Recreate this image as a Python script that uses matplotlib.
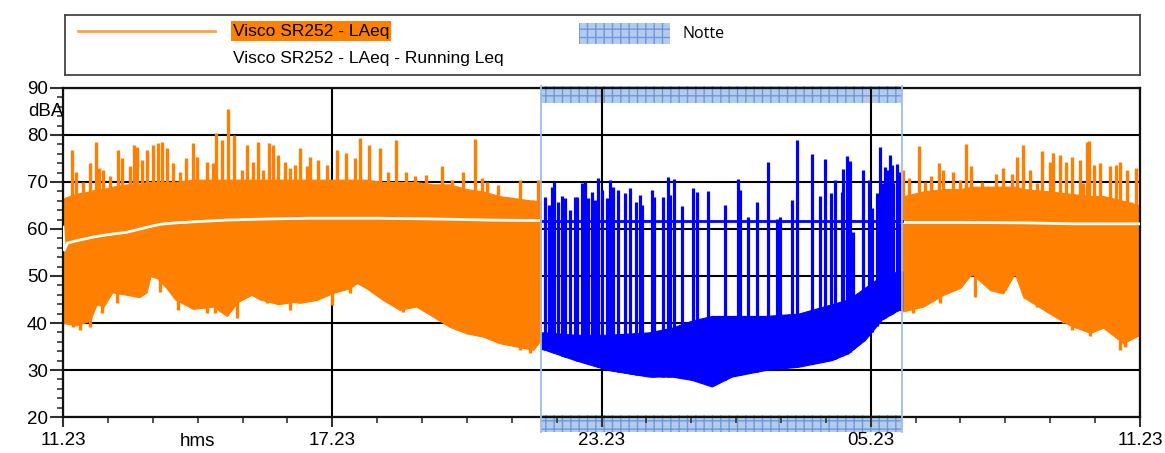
import numpy as np
import matplotlib
matplotlib.use("Agg")
import matplotlib.pyplot as plt
import matplotlib.transforms as mtransforms
from matplotlib.patches import Rectangle
from matplotlib.lines import Line2D

plt.rcParams['font.family'] = ['Liberation Sans', 'DejaVu Sans']
plt.rcParams['hatch.linewidth'] = 1.0

# x values are hours since 11.23
tick_hours = [0, 6, 12, 18, 24]
tick_labels = ["11.23", "17.23", "23.23", "05.23", "11.23"]
night = [10.65, 18.70]  # Notte 22:00 - 06:00

# LAeq, day before the night: dense band (low / high edge)
day1_t = [0, 0.3, 0.6, 0.75, 0.9, 1.1, 1.42, 1.7, 1.86, 1.95, 2.1, 2.3, 2.5, 2.9, 3.35,
          3.65, 3.9, 4.2, 4.39, 4.8, 5.13, 5.28, 5.65, 6.02, 6.39, 6.55, 6.76, 7.13, 7.5,
          7.87, 8.24, 8.61, 8.99, 9.36, 9.73, 10.1, 10.48, 10.65]
day1_low = [40.0, 39.5, 40.5, 44.0, 43.5, 46.5, 46.0, 45.5, 46.5, 50.0, 49.5, 47.5, 45.0,
            43.0, 43.5, 41.5, 44.5, 46.0, 45.0, 44.0, 44.5, 44.3, 44.9, 46.4, 47.4, 48.5,
            47.4, 44.9, 42.8, 43.5, 41.4, 39.2, 37.8, 37.1, 35.7, 35.0, 34.3, 36.4]
day1_high = [66.5, 67.5, 68.0, 68.5, 68.5, 69.0, 69.5, 69.5, 70.0, 70.0, 70.0, 70.0, 70.0,
             70.5, 70.5, 70.5, 70.5, 70.5, 70.5, 70.5, 70.5, 70.5, 70.5, 70.5, 70.5, 70.5,
             70.5, 70.0, 70.0, 70.0, 69.5, 69.5, 68.5, 68.0, 67.0, 66.5, 66.0, 66.0]

# LAeq, morning after the night
day2_t = [18.70, 18.73, 19.17, 19.62, 20.0, 20.25, 20.66, 20.95, 21.21, 21.40, 21.99,
          22.44, 22.89, 23.18, 23.63, 24.0]
day2_low = [42.5, 42.5, 43.5, 46.0, 47.5, 50.5, 47.0, 46.3, 50.5, 45.5, 42.0, 39.5, 37.9,
            39.0, 35.7, 37.5]
day2_high = [66.0, 67.0, 68.0, 68.5, 68.5, 69.0, 69.0, 69.0, 69.0, 68.5, 68.0, 67.5, 67.0,
             67.0, 66.0, 65.0]

# LAeq during the night
night_t = [10.65, 10.74, 11.41, 12.15, 13.05, 13.57, 14.01, 14.46, 14.9, 15.65, 16.39,
           17.13, 17.5, 17.87, 18.24, 18.62, 18.70]
night_low = [34.5, 34.3, 32.1, 30.0, 28.6, 28.6, 27.9, 26.5, 28.6, 30.0, 30.7, 32.1, 33.6,
             36.4, 40.7, 42.8, 42.8]
night_high = [38.0, 38.0, 37.5, 37.5, 38.0, 39.0, 40.5, 41.5, 41.5, 41.5, 42.0, 44.0, 45.0,
              47.5, 50.0, 51.0, 51.0]

# single peaks
day_peak_t = [0.21, 0.29, 0.45, 0.60, 0.73, 0.81, 0.90, 1.05, 1.23, 1.31, 1.49, 1.58, 1.66,
              1.75, 1.88, 2.00, 2.12, 2.20, 2.31, 2.46, 2.61, 2.74, 2.89, 2.98, 3.20, 3.34,
              3.42, 3.54, 3.68, 3.81, 3.98, 4.11, 4.24, 4.35, 4.46, 4.60, 4.69, 4.80, 4.95,
              5.06, 5.17, 5.28, 5.43, 5.50, 5.69, 5.88, 6.10, 6.30, 6.51, 6.62, 6.82, 7.06,
              7.25, 7.42, 7.64, 7.84, 8.10, 8.44, 8.66, 8.92, 9.17, 9.33, 9.44, 9.70, 9.89,
              10.03, 10.18, 10.33, 10.48, 10.59,
              18.71, 18.86, 19.08, 19.21, 19.34, 19.51, 19.62, 19.84, 20.00, 20.12, 20.23,
              20.47, 20.58, 20.79, 20.95, 21.14, 21.25, 21.39, 21.55, 21.70, 21.82, 21.99,
              22.07, 22.22, 22.35, 22.48, 22.66, 22.74, 22.81, 22.87, 22.97, 23.11, 23.33,
              23.47, 23.55, 23.70, 23.81, 23.92]
day_peak_db = [76.8, 72.2, 70.1, 74.0, 78.6, 72.9, 72.6, 71.2, 76.8, 75.0, 73.3, 77.9, 77.5,
               74.7, 76.8, 77.9, 78.2, 78.6, 77.2, 74.0, 72.2, 75.0, 78.2, 75.4, 74.3, 74.0,
               80.4, 79.0, 85.5, 80.0, 72.6, 77.9, 74.3, 78.6, 72.6, 78.2, 77.9, 75.7, 74.3,
               72.9, 73.6, 77.2, 73.3, 75.4, 74.7, 73.6, 76.8, 76.1, 75.0, 79.3, 77.9, 77.2,
               72.2, 79.0, 72.2, 71.2, 71.5, 73.3, 70.4, 72.2, 79.1, 70.8, 70.1, 69.4, 66.9,
               66.5, 70.4, 66.2, 66.2, 70.4,
               72.6, 70.8, 77.7, 70.1, 71.2, 74.0, 72.6, 72.2, 70.4, 78.1, 73.3,
               70.1, 69.0, 71.8, 72.9, 71.8, 75.4, 77.9, 72.6, 69.7, 76.7, 74.3,
               76.1, 75.7, 74.3, 75.4, 74.7, 69.7, 78.6, 78.8, 73.6, 74.0, 73.3,
               73.6, 74.3, 72.6, 65.8, 72.9]

# single dips below the band
day_dip_t = [0.23, 0.38, 0.60, 0.86, 1.20, 1.68, 2.16, 2.57, 3.20, 3.39, 3.87, 4.54, 5.06,
             5.99, 6.40, 7.58, 8.44, 8.81, 9.59, 10.18, 10.41,
             18.95, 19.54, 20.32, 20.99, 21.70, 22.29, 22.48, 22.89, 23.55, 23.67]
day_dip_db = [39.2, 38.5, 39.2, 42.1, 44.2, 45.6, 46.7, 42.8, 42.1, 42.1, 41.1, 44.2, 42.8,
              43.9, 46.3, 42.4, 40.3, 38.5, 36.4, 34.3, 33.6,
              42.1, 44.2, 45.6, 47.0, 43.5, 40.0, 38.6, 37.2, 34.3, 35.0]

night_peak_t = [10.74, 10.82, 10.89, 10.94, 11.04, 11.13, 11.19, 11.30, 11.41, 11.45, 11.57,
                11.63, 11.71, 11.78, 11.86, 11.93, 12.00, 12.12, 12.19, 12.26, 12.37, 12.52,
                12.64, 12.77, 12.86, 12.90, 13.12, 13.16, 13.36, 13.48, 13.53, 13.62, 13.79,
                14.03, 14.12, 14.38, 14.75, 15.05, 15.09, 15.26, 15.46, 15.70, 15.90, 15.98,
                16.24, 16.35, 16.69, 16.88, 16.99, 17.11, 17.20, 17.35, 17.39, 17.46, 17.54,
                17.61, 17.83, 17.97, 18.02, 18.13, 18.21, 18.27, 18.32, 18.37, 18.43, 18.47,
                18.50, 18.58, 18.64]
night_peak_db = [66.9, 65.1, 69.0, 70.1, 65.8, 67.0, 66.5, 64.0, 66.9, 66.9, 69.7,
                 70.1, 66.5, 67.9, 66.2, 70.8, 68.2, 66.5, 70.4, 69.0, 68.2, 67.6,
                 68.7, 65.8, 67.2, 65.1, 68.2, 66.9, 66.9, 71.1, 67.2, 70.6, 64.8,
                 68.7, 67.9, 68.1, 65.1, 70.6, 68.2, 62.6, 65.8, 74.3, 62.1, 62.6,
                 66.2, 78.9, 76.0, 67.0, 74.8, 67.6, 70.4, 67.9, 72.7, 75.6, 74.5,
                 59.4, 72.6, 70.4, 64.4, 67.6, 77.4, 69.7, 73.2, 72.6, 75.7, 73.6,
                 69.7, 73.9, 72.2]

# Running Leq
leq1_t = [0, 0.03, 0.1, 0.3, 0.68, 1.0, 1.42, 1.8, 2.16, 2.5, 3.05, 3.65, 4.39, 5.5, 7.0,
          8.5, 9.5, 10.65]
leq1 = [60.4, 55.5, 57.0, 57.5, 58.3, 58.8, 59.3, 60.2, 61.0, 61.3, 61.6, 61.9, 62.1, 62.3,
        62.3, 62.1, 61.9, 61.8]
leq_night_t = [10.65, 18.70]
leq_night = [61.6, 61.6]
leq2_t = [18.70, 20.0, 21.5, 22.5, 24.0]
leq2 = [61.4, 61.4, 61.3, 61.1, 61.1]

ORANGE = '#ff8000'
BLUE = '#0000ff'
BAND_FACE = '#b3cbee'
BAND_HATCH = '#6f98d6'

fig = plt.figure(figsize=(11.65, 4.53), dpi=100)
ax = fig.add_axes([0.05408, 0.07947, 0.92446, 0.72627])
ax.set_xlim(0, 24)
ax.set_ylim(20, 90)
ax.set_axisbelow(True)

# data
ax.fill_between(day1_t, day1_low, day1_high, color=ORANGE, lw=0.8, zorder=2)
ax.fill_between(day2_t, day2_low, day2_high, color=ORANGE, lw=0.8, zorder=2)
ax.vlines(day_peak_t, 50, day_peak_db, color=ORANGE, lw=2.4, zorder=2)
ax.vlines(day_dip_t, day_dip_db, 55, color=ORANGE, lw=2.4, zorder=2)
ax.fill_between(night_t, night_low, night_high, color=BLUE, lw=0.8, zorder=3)
ax.vlines(night_peak_t, np.interp(night_peak_t, night_t, night_low), night_peak_db,
          color=BLUE, lw=2.3, zorder=3)
ax.plot(leq1_t, leq1, color='white', lw=2, zorder=4)
ax.plot(leq2_t, leq2, color='white', lw=2, zorder=4)
ax.plot(leq_night_t, leq_night, color=BLUE, lw=2, zorder=4)

# night band
trans = mtransforms.blended_transform_factory(ax.transData, ax.transAxes)
w = night[1] - night[0]
ax.add_patch(Rectangle((night[0], 0.9542), w, 0.0517, transform=trans, clip_on=False,
                       facecolor=BAND_FACE, edgecolor=BAND_HATCH, hatch='++', lw=0,
                       zorder=0.4))
ax.add_patch(Rectangle((night[0], -0.0456), w, 0.0517, transform=trans, clip_on=False,
                       facecolor=BAND_FACE, edgecolor=BAND_HATCH, hatch='++', lw=0,
                       zorder=0.4))
for xn in night:
    ax.plot([xn, xn], [-0.0456, 1.006], transform=trans, clip_on=False,
            color='#9dbde6', lw=1.3, zorder=6)

# axes styling
ax.set_xticks(tick_hours)
ax.set_xticklabels(tick_labels)
ax.set_xticks(np.arange(0, 25, 1), minor=True)
ax.set_yticks(np.arange(20, 91, 10))
ax.set_yticks(np.arange(20, 91, 2), minor=True)
ax.grid(True, which='major', color='black', lw=1.5)
ax.tick_params(axis='both', which='major', labelsize=13.5, colors='#333333', width=1.5,
               labelcolor='black')
ax.tick_params(axis='x', which='major', length=7.5, pad=3)
ax.tick_params(axis='y', which='major', length=9.5, pad=1.5)
ax.tick_params(axis='both', which='minor', length=4.5, width=1.2, colors='#333333')
for s in ax.spines.values():
    s.set_linewidth(1.6)
    s.set_color('#111111')
ax.text(3, -0.073, "hms", transform=trans, ha='center', va='center', fontsize=13.5)
fig.text(28 / 1165, 1 - 112 / 453, "dBA", ha='left', va='center', fontsize=13.5)

# legend box
lax = fig.add_axes([65 / 1165, 1 - 75 / 453, 1075 / 1165, 60 / 453])
lax.set_xlim(0, 1)
lax.set_ylim(0, 1)
lax.set_xticks([])
lax.set_yticks([])
for s in lax.spines.values():
    s.set_linewidth(1.3)
    s.set_color('#444444')
lax.add_line(Line2D([0.012, 0.1395], [0.733, 0.733], color='#f9a24a', lw=2))
lax.text(0.1560, 0.733, "Visco SR252 - LAeq", ha='left', va='center', fontsize=12.5,
         bbox=dict(boxstyle='square,pad=0.12', facecolor=ORANGE, edgecolor='none'))
lax.text(0.1560, 0.283, "Visco SR252 - LAeq - Running Leq", ha='left', va='center',
         fontsize=12.5)
lax.add_patch(Rectangle((0.478, 0.517), 0.0848, 0.35, facecolor=BAND_FACE,
                        edgecolor=BAND_HATCH, hatch='++', lw=0))
lax.text(0.574, 0.683, "Notte", ha='left', va='center', fontsize=11.5,
         family=['Open Sans', 'DejaVu Sans'])

fig.savefig("out.png", dpi=100)
